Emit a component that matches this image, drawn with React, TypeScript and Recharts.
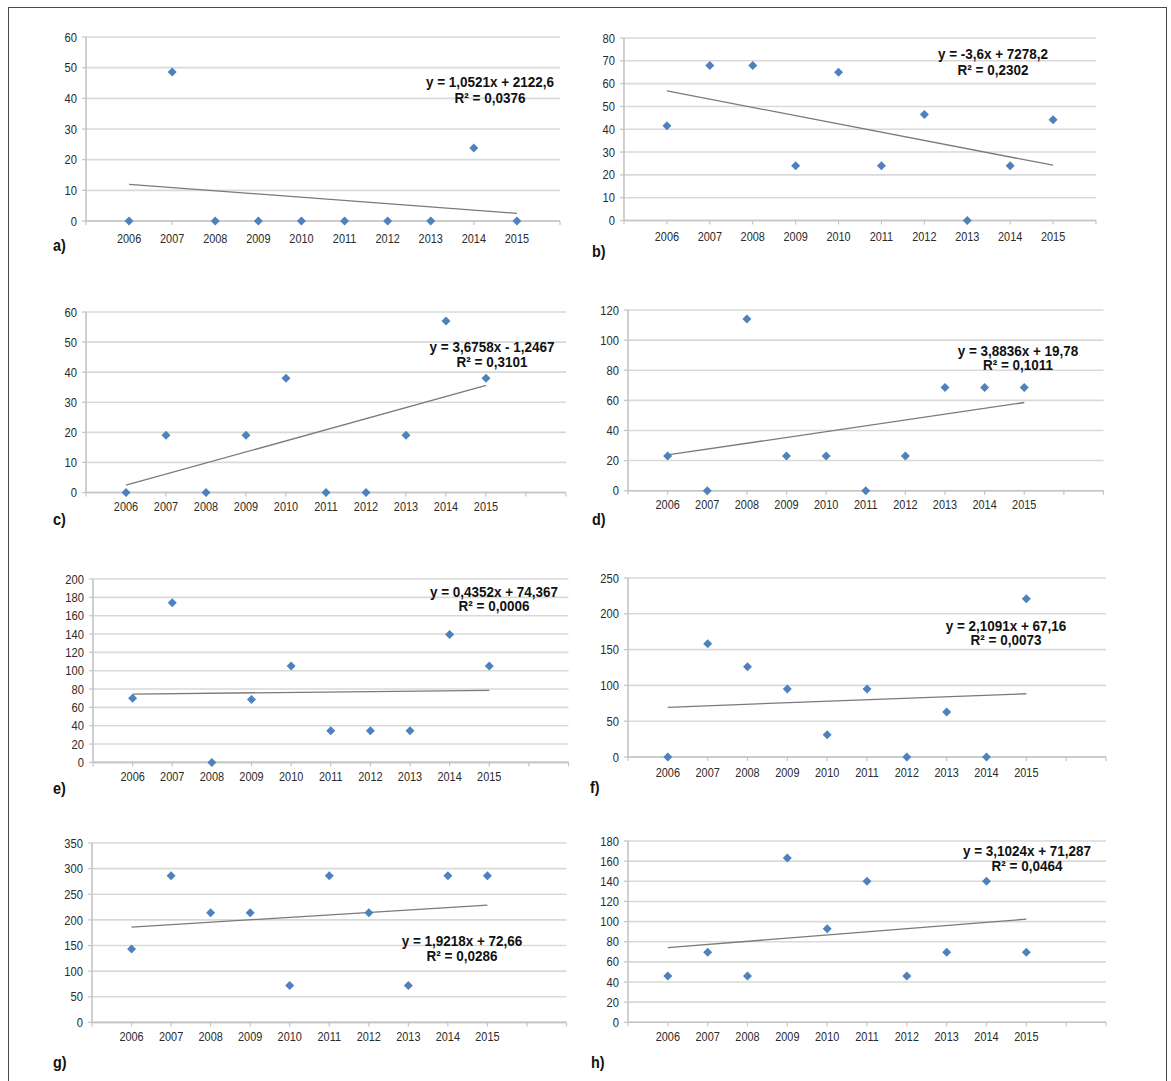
import React from "react";
import { ComposedChart, Scatter, XAxis, YAxis, CartesianGrid } from "recharts";

const FONT = "'Liberation Sans', Arial, Helvetica, sans-serif";

// years that carry a point and a label
const years = [2006, 2007, 2008, 2009, 2010, 2011, 2012, 2013, 2014, 2015];
// axis ticks (the axis runs one step before and one or two steps after the data)
const axisYearsShort = [2005, 2006, 2007, 2008, 2009, 2010, 2011, 2012, 2013, 2014, 2015, 2016];
const axisYearsLong = [2005, 2006, 2007, 2008, 2009, 2010, 2011, 2012, 2013, 2014, 2015, 2016, 2017];

const valuesA = [0, 48.6, 0, 0, 0, 0, 0, 0, 23.8, 0];
const valuesB = [41.5, 68, 68, 24, 65, 24, 46.5, 0, 24, 44.2];
const valuesC = [0, 19, 0, 19, 38, 0, 0, 19, 57, 38];
const valuesD = [23, 0, 114, 23, 23, 0, 23, 68.5, 68.5, 68.5];
const valuesE = [70, 174, 0, 68.5, 105, 34.5, 34.5, 34.5, 139.5, 105];
const valuesF = [0, 158, 126, 95, 31, 95, 0, 63, 0, 221];
const valuesG = [143, 286, 214, 214, 72, 286, 214, 72, 286, 286];
const valuesH = [46, 69.5, 46, 163, 93, 140, 46, 69.5, 140, 69.5];

const ticksA = [0, 10, 20, 30, 40, 50, 60];
const ticksB = [0, 10, 20, 30, 40, 50, 60, 70, 80];
const ticksC = [0, 10, 20, 30, 40, 50, 60];
const ticksD = [0, 20, 40, 60, 80, 100, 120];
const ticksE = [0, 20, 40, 60, 80, 100, 120, 140, 160, 180, 200];
const ticksF = [0, 50, 100, 150, 200, 250];
const ticksG = [0, 50, 100, 150, 200, 250, 300, 350];
const ticksH = [0, 20, 40, 60, 80, 100, 120, 140, 160, 180];

const equationA = ["y = 1,0521x + 2122,6", "R² = 0,0376"];
const equationB = ["y = -3,6x + 7278,2", "R² = 0,2302"];
const equationC = ["y = 3,6758x - 1,2467", "R² = 0,3101"];
const equationD = ["y = 3,8836x + 19,78", "R² = 0,1011"];
const equationE = ["y = 0,4352x + 74,367", "R² = 0,0006"];
const equationF = ["y = 2,1091x + 67,16", "R² = 0,0073"];
const equationG = ["y = 1,9218x + 72,66", "R² = 0,0286"];
const equationH = ["y = 3,1024x + 71,287", "R² = 0,0464"];

const panelNames = ["a)", "b)", "c)", "d)", "e)", "f)", "g)", "h)"];

type Layout = {
  left: number; right: number; top: number; bottom: number;
  tickGap: number; eqX: number; eqY1: number; eqY2: number;
  labelX: number; labelY: number;
};

const layouts: Layout[] = [
  { left: 86, right: 560, top: 37, bottom: 221, tickGap: 8.5, eqX: 490, eqY1: 82, eqY2: 98, labelX: 53, labelY: 246 },
  { left: 624, right: 1096, top: 37.5, bottom: 220, tickGap: 7, eqX: 993, eqY1: 54, eqY2: 70, labelX: 592, labelY: 252 },
  { left: 86, right: 566, top: 311.5, bottom: 492, tickGap: 5.5, eqX: 492, eqY1: 347, eqY2: 362, labelX: 53, labelY: 520 },
  { left: 627.5, right: 1103, top: 310.3, bottom: 491, tickGap: 5.5, eqX: 1018, eqY1: 350.5, eqY2: 365, labelX: 592, labelY: 520 },
  { left: 93, right: 568.5, top: 579.3, bottom: 762.7, tickGap: 5, eqX: 494, eqY1: 592, eqY2: 606, labelX: 53, labelY: 789 },
  { left: 628, right: 1106, top: 577.7, bottom: 756.7, tickGap: 6.5, eqX: 1006, eqY1: 626, eqY2: 640, labelX: 590, labelY: 788 },
  { left: 91.5, right: 566, top: 843.3, bottom: 1022.7, tickGap: 5.5, eqX: 462, eqY1: 941, eqY2: 956, labelX: 53, labelY: 1063 },
  { left: 628, right: 1106, top: 841, bottom: 1022.3, tickGap: 5.5, eqX: 1027, eqY1: 851, eqY2: 866, labelX: 591, labelY: 1063 },
];

const series = [valuesA, valuesB, valuesC, valuesD, valuesE, valuesF, valuesG, valuesH];
const yTicks = [ticksA, ticksB, ticksC, ticksD, ticksE, ticksF, ticksG, ticksH];
const xTicks = [axisYearsShort, axisYearsShort, axisYearsLong, axisYearsLong, axisYearsLong, axisYearsLong, axisYearsLong, axisYearsLong];
const equations = [equationA, equationB, equationC, equationD, equationE, equationF, equationG, equationH];

const TICK_COLOR = "#2b2b2b";

// narrow tick labels (the original uses a condensed face)
const XTick = (props: any) => {
  const { x, y, payload } = props;
  if (!years.includes(payload.value)) return null;
  return (
    <g transform={`translate(${x},${y}) scale(0.84,1)`}>
      <text x={0} y={0} dy="0.71em" textAnchor="middle" fill={TICK_COLOR} fontSize={13} fontFamily={FONT}>
        {payload.value}
      </text>
    </g>
  );
};

const YTick = (props: any) => {
  const { x, y, payload } = props;
  return (
    <g transform={`translate(${x},${y}) scale(0.86,1)`}>
      <text x={0} y={0} dy="0.355em" textAnchor="end" fill={TICK_COLOR} fontSize={13} fontFamily={FONT}>
        {payload.value}
      </text>
    </g>
  );
};

const Diamond = (props: any) => {
  const { cx, cy } = props;
  if (cx == null || cy == null) return null;
  const r = 4.5;
  return (
    <path
      d={`M${cx},${cy - r}L${cx + r},${cy}L${cx},${cy + r}L${cx - r},${cy}Z`}
      fill="#4f81bd"
    />
  );
};

const Y_W = 40;
const X_H = 30;
const M_TOP = 10;
const M_RIGHT = 10;

function Panel({ index }: { index: number }) {
  const lay = layouts[index];
  const data = years.map((year, i) => ({ x: year, y: series[index][i] }));
  const ticksX = xTicks[index];
  const ticksY = yTicks[index];
  const width = lay.right - lay.left + Y_W + M_RIGHT;
  const height = lay.bottom - lay.top + M_TOP + X_H;
  const eq = equations[index];
  const textStyle: React.CSSProperties = {
    position: "absolute",
    fontFamily: FONT,
    fontWeight: 700,
    fontSize: 14.5,
    color: "#111",
    whiteSpace: "nowrap",
    lineHeight: "12px",
    transform: "translate(-50%, -50%) scaleX(0.93)",
  };
  return (
    <>
      <div style={{ position: "absolute", left: lay.left - Y_W, top: lay.top - M_TOP }}>
        <ComposedChart
          width={width}
          height={height}
          data={data}
          margin={{ top: M_TOP, right: M_RIGHT, left: 0, bottom: 0 }}
        >
          <CartesianGrid vertical={false} stroke="#d9d9d9" strokeWidth={1.6} />
          <XAxis
            type="number"
            dataKey="x"
            domain={[ticksX[0], ticksX[ticksX.length - 1]]}
            ticks={ticksX}
            interval={0}
            height={X_H}
            tickSize={4}
            tickMargin={lay.tickGap}
            tick={XTick}
            axisLine={{ stroke: "#c4c4c4", strokeWidth: 1.6 }}
            tickLine={{ stroke: "#c4c4c4", strokeWidth: 1.2 }}
          />
          <YAxis
            type="number"
            dataKey="y"
            domain={[0, ticksY[ticksY.length - 1]]}
            ticks={ticksY}
            interval={0}
            width={Y_W}
            tickSize={4}
            tickMargin={5}
            tick={YTick}
            axisLine={{ stroke: "#c4c4c4", strokeWidth: 1.6 }}
            tickLine={{ stroke: "#c4c4c4", strokeWidth: 1.2 }}
          />
          <Scatter
            data={data}
            dataKey="y"
            shape={Diamond}
            line={{ stroke: "#7a7a7a", strokeWidth: 1.3 }}
            lineType="fitting"
            isAnimationActive={false}
          />
        </ComposedChart>
      </div>
      <div style={{ ...textStyle, left: lay.eqX, top: lay.eqY1 }}>{eq[0]}</div>
      <div style={{ ...textStyle, left: lay.eqX, top: lay.eqY2 }}>{eq[1]}</div>
      <div
        style={{
          position: "absolute",
          left: lay.labelX,
          top: lay.labelY,
          transform: "translateY(-50%) scaleX(0.9)",
          transformOrigin: "left center",
          fontFamily: FONT,
          fontWeight: 700,
          fontSize: 16,
          color: "#111",
          lineHeight: 1,
        }}
      >
        {panelNames[index]}
      </div>
    </>
  );
}

export default function App() {
  return (
    <div
      style={{
        position: "fixed",
        left: 0,
        top: 0,
        width: 1171,
        height: 1081,
        overflow: "hidden",
        background: "#fff",
      }}
    >
      <div
        style={{
          position: "absolute",
          left: 8,
          top: 7,
          width: 1159,
          height: 1100,
          boxSizing: "border-box",
          border: "1.6px solid #4a4a4a",
        }}
      />
      {panelNames.map((_, i) => (
        <Panel key={i} index={i} />
      ))}
    </div>
  );
}
